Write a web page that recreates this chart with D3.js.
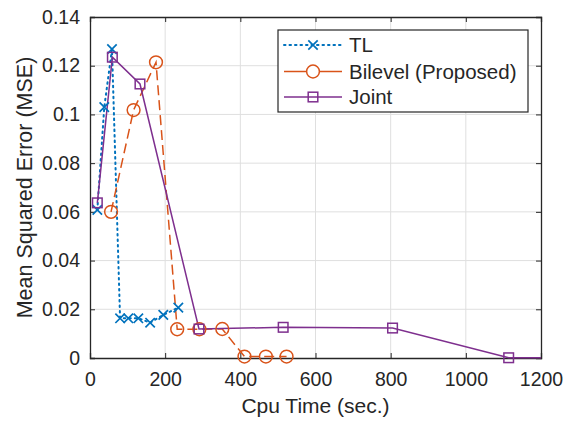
<!DOCTYPE html>
<html><head><meta charset="utf-8">
<script src="https://cdn.jsdelivr.net/npm/d3@7"></script>
<style>
html,body{margin:0;padding:0;background:#fff;}
text{font-family:"Liberation Sans",Arial,Helvetica,sans-serif;fill:#262626;}
</style></head>
<body><svg id="c" width="563" height="422"></svg>
<script>
const xTicks = [0, 200, 400, 600, 800, 1000, 1200];
const yTicks = [0, 0.02, 0.04, 0.06, 0.08, 0.1, 0.12, 0.14];
const yTickLabels = ["0", "0.02", "0.04", "0.06", "0.08", "0.1", "0.12", "0.14"];

const tlX = [19.5, 38, 58.5, 80, 102, 128.6, 160, 195, 235];
const tlY = [0.0608, 0.103, 0.1268, 0.0163, 0.0163, 0.0163, 0.0145, 0.0177, 0.0207];
const blX = [56, 116, 175.6, 232, 291, 352, 411, 468, 523];
const blY = [0.060, 0.1018, 0.1214, 0.0118, 0.0118, 0.0119, 0.0006, 0.0006, 0.0006];
const jX = [19.5, 59.5, 133, 290, 514, 805, 1114, 1350];
const jY = [0.0637, 0.1235, 0.1125, 0.0119, 0.0126, 0.0123, 0.0001, 0];

const seriesNames = ["TL", "Bilevel (Proposed)", "Joint"];
const colors = ["#0072BD", "#D95319", "#7E2F8E"];

const L = 90, R = 541, T = 17, B = 358;
const x = d3.scaleLinear().domain([0, 1200]).range([L, R]);
const y = d3.scaleLinear().domain([0, 0.14]).range([B, T]);
const svg = d3.select("#c");
const ax = "#262626";
const FF = "'Liberation Sans',Arial,Helvetica,sans-serif";

svg.append("defs").append("clipPath").attr("id","clip")
  .append("rect").attr("x",L).attr("y",T-8).attr("width",R-L).attr("height",B-T+16);

// grid
svg.append("g").selectAll("line").data(xTicks.slice(1,-1)).join("line")
  .attr("x1",d=>x(d)).attr("x2",d=>x(d)).attr("y1",T).attr("y2",B)
  .attr("stroke","#dfdfdf").attr("stroke-width",1);
svg.append("g").selectAll("line").data(yTicks.slice(1,-1)).join("line")
  .attr("y1",d=>y(d)).attr("y2",d=>y(d)).attr("x1",L).attr("x2",R)
  .attr("stroke","#dfdfdf").attr("stroke-width",1);

// axes
const gx = svg.append("g").attr("transform",`translate(0,${B})`)
  .call(d3.axisBottom(x).tickValues(xTicks).tickSize(-5).tickPadding(14).tickFormat(d3.format("d")));
const gxt = svg.append("g").attr("transform",`translate(0,${T})`)
  .call(d3.axisTop(x).tickValues(xTicks).tickSize(-5).tickFormat(""));
const gy = svg.append("g").attr("transform",`translate(${L},0)`)
  .call(d3.axisLeft(y).tickValues(yTicks).tickSize(-5).tickPadding(10).tickFormat((d,i)=>yTickLabels[i]));
const gyr = svg.append("g").attr("transform",`translate(${R},0)`)
  .call(d3.axisRight(y).tickValues(yTicks).tickSize(-5).tickFormat(""));
[gx,gxt,gy,gyr].forEach(g=>{
  g.select(".domain").attr("stroke",ax).attr("stroke-width",1.3);
  g.selectAll(".tick line").attr("stroke",ax).attr("stroke-width",1);
  g.selectAll("text").attr("fill",ax).style("font-size","19.5px").style("font-family",FF);
});

// axis labels
svg.append("text").attr("x",(L+R)/2).attr("y",413).attr("text-anchor","middle")
  .style("font-size","21px").text("Cpu Time (sec.)");
svg.append("text").attr("transform",`translate(32,${(T+B)/2}) rotate(-90)`).attr("text-anchor","middle")
  .style("font-size","21.5px").text("Mean Squared Error (MSE)");

const plot = svg.append("g").attr("clip-path","url(#clip)");
const dashes = ["1.5,4", "10,5", null];
const all = [[tlX,tlY],[blX,blY],[jX,jY]];

function marker(g, type, cx, cy, col){
  if(type===0){
    const s=4.7;
    g.append("path").attr("d",`M${cx-s},${cy-s}L${cx+s},${cy+s}M${cx-s},${cy+s}L${cx+s},${cy-s}`)
      .attr("stroke",col).attr("stroke-width",1.7).attr("fill","none");
  } else if(type===1){
    g.append("circle").attr("cx",cx).attr("cy",cy).attr("r",6.4)
      .attr("stroke",col).attr("stroke-width",1.5).attr("fill","none");
  } else {
    g.append("rect").attr("x",cx-4.8).attr("y",cy-4.8).attr("width",9.6).attr("height",9.6)
      .attr("stroke",col).attr("stroke-width",1.5).attr("fill","none");
  }
}

all.forEach(([xs,ys],k)=>{
  const pts = xs.map((v,i)=>[x(v),y(ys[i])]);
  plot.append("path").attr("d",d3.line()(pts)).attr("fill","none")
    .attr("stroke",colors[k]).attr("stroke-width",k===0?2:1.5)
    .attr("stroke-linecap",k===0?"round":"butt")
    .attr("stroke-dasharray",dashes[k]);
  const mg = svg.append("g");
  pts.forEach(p=>{ if(p[0]<=R+0.5) marker(mg,k,p[0],p[1],colors[k]); });
});

// legend
const lg = svg.append("g");
lg.append("rect").attr("x",278).attr("y",30).attr("width",250).attr("height",82)
  .attr("fill","#fff").attr("stroke",ax).attr("stroke-width",1.2);
const ly = [45, 71.5, 97];
seriesNames.forEach((n,k)=>{
  lg.append("line").attr("x1",284).attr("x2",342).attr("y1",ly[k]).attr("y2",ly[k])
    .attr("stroke",colors[k]).attr("stroke-width",k===0?2:1.5)
    .attr("stroke-linecap",k===0?"round":"butt")
    .attr("stroke-dasharray",k===0?"1.5,4":(k===1?"22,14":null));
  marker(lg,k,313,ly[k],colors[k]);
  lg.append("text").attr("x",349).attr("y",ly[k]).attr("dy","0.36em")
    .style("font-size","20.5px").text(n);
});
</script></body></html>
